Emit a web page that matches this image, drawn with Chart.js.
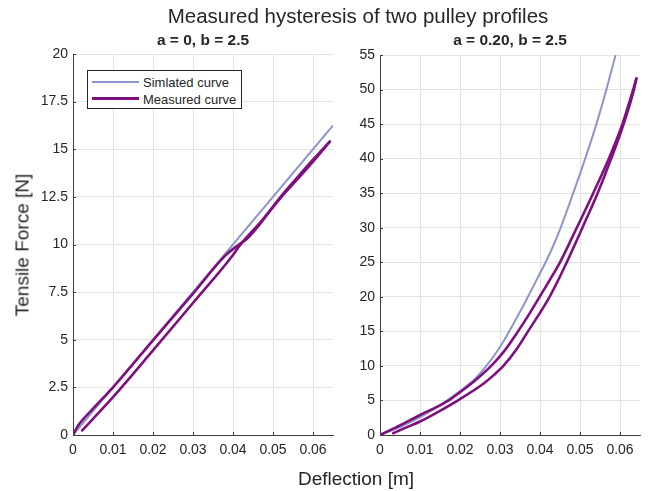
<!DOCTYPE html>
<html>
<head>
<meta charset="utf-8">
<script src="https://cdn.jsdelivr.net/npm/chart.js@4.4.1/dist/chart.umd.min.js"></script>
<style>
  html, body { margin: 0; padding: 0; background: #ffffff; }
  body { width: 661px; height: 491px; position: relative; overflow: hidden;
         font-family: 'Liberation Sans', Arial, Helvetica, sans-serif; color: #262626; }
  .box { position: absolute; }
  .txt { position: absolute; white-space: nowrap; line-height: 1; transform: translate(-50%, -50%); }
  .legend { position: absolute; left: 87px; top: 70px; width: 153px; height: 37px;
            border: 1px solid #262626; background: #ffffff; }
  .legend .sw { position: absolute; left: 4px; width: 47px; }
  .legend .lt { position: absolute; left: 55px; font-size: 13px; line-height: 1; transform: translateY(-50%); white-space: nowrap; }
</style>
</head>
<body>
<div class="box" style="left:0px;top:0px;width:340px;height:491px;"><canvas id="c1" width="340" height="491"></canvas></div>
<div class="box" style="left:340px;top:0px;width:321px;height:491px;"><canvas id="c2" width="321" height="491"></canvas></div>

<div class="txt" style="left:358px;top:16px;font-size:20.5px;">Measured hysteresis of two pulley profiles</div>
<div class="txt" style="left:203px;top:40px;font-size:15.5px;font-weight:bold;">a = 0, b = 2.5</div>
<div class="txt" style="left:510px;top:40px;font-size:15.5px;font-weight:bold;">a = 0.20, b = 2.5</div>
<div class="txt" style="left:22px;top:245px;font-size:19px;transform:translate(-50%,-50%) rotate(-90deg);">Tensile Force [N]</div>
<div class="txt" style="left:356px;top:478px;font-size:19px;">Deflection [m]</div>

<div class="legend">
  <div class="sw" style="top:10px;height:2px;background:#8c96cc;"></div>
  <div class="lt" style="top:11px;">Simlated curve</div>
  <div class="sw" style="top:26px;height:3px;background:#7f0f7f;"></div>
  <div class="lt" style="top:27.5px;">Measured curve</div>
</div>

<script>
// ---------------- data ----------------
const seriesNames = ['Simlated curve', 'Measured curve'];

const xTicks = [0, 0.01, 0.02, 0.03, 0.04, 0.05, 0.06];
const xTickLabels = ['0', '0.01', '0.02', '0.03', '0.04', '0.05', '0.06'];
const leftYTicks = [0, 2.5, 5, 7.5, 10, 12.5, 15, 17.5, 20];
const leftYTickLabels = ['0', '2.5', '5', '7.5', '10', '12.5', '15', '17.5', '20'];
const rightYTicks = [0, 5, 10, 15, 20, 25, 30, 35, 40, 45, 50, 55];
const rightYTickLabels = ['0', '5', '10', '15', '20', '25', '30', '35', '40', '45', '50', '55'];

// Left subplot: a = 0, b = 2.5
const leftSimX = [0, 0.065];
const leftSimY = [0, 16.25];
// measured loop: loading branch and unloading branch
const leftUpX = [0, 0.0013, 0.005, 0.01, 0.02, 0.03, 0.038, 0.0415, 0.0435, 0.047, 0.0517, 0.056, 0.06, 0.0642];
const leftUpY = [0, 0.5, 1.38, 2.5, 4.97, 7.42, 9.4, 10.0, 10.3, 11.15, 12.45, 13.5, 14.45, 15.4];
const leftDownX = [0.0023, 0.005, 0.01, 0.02, 0.03, 0.04, 0.0415, 0.0435, 0.047, 0.0517, 0.056, 0.06, 0.0642];
const leftDownY = [0.24, 0.85, 1.99, 4.44, 6.93, 9.45, 9.9, 10.4, 11.2, 12.4, 13.4, 14.35, 15.4];

// Right subplot: a = 0.20, b = 2.5
const rightSimX = [0, 0.005, 0.01, 0.015, 0.02, 0.0235, 0.0266, 0.0295, 0.032, 0.0345, 0.0368, 0.0392, 0.0414, 0.0434, 0.0451, 0.0483, 0.0513, 0.0541, 0.0566, 0.0589];
const rightSimY = [0, 1.15, 2.6, 4.3, 6.35, 8.0, 10.0, 12.3, 14.7, 17.3, 19.8, 22.5, 25.0, 27.5, 29.9, 35.0, 40.0, 45.0, 50.0, 55.0];
const rightUpX = [0, 0.002, 0.005, 0.01, 0.015, 0.0172, 0.02, 0.024, 0.0278, 0.031, 0.0345, 0.0373, 0.0399, 0.0425, 0.045, 0.0492, 0.0533, 0.0572, 0.0606, 0.0633, 0.0641];
const rightUpY = [0, 0.55, 1.4, 2.9, 4.3, 5.0, 6.2, 8.0, 10.0, 12.1, 15.0, 17.5, 20.0, 22.5, 25.0, 30.0, 35.0, 40.0, 45.0, 50.0, 51.6];
const rightDownX = [0.0033, 0.006, 0.01, 0.015, 0.02, 0.026, 0.0285, 0.031, 0.034, 0.037, 0.0424, 0.0467, 0.0506, 0.0544, 0.0578, 0.0609, 0.0635, 0.0641];
const rightDownY = [0.25, 0.95, 1.95, 3.5, 5.2, 7.5, 8.7, 10.1, 12.3, 15.0, 20.0, 25.0, 30.0, 35.0, 40.0, 45.0, 50.0, 51.6];

// ---------------- styling ----------------
const SIM_COLOR = '#8c96cc';
const MEAS_COLOR = '#7f0f7f';
const AXIS_COLOR = '#404040';
const GRID_COLOR = '#e3e3e3';
const TEXT_COLOR = '#262626';
const FONT = "'Liberation Sans', Arial, Helvetica, sans-serif";

function pts(xs, ys) { return xs.map((x, i) => ({ x: x, y: ys[i] })); }

const inwardTicks = {
  id: 'inwardTicks',
  afterDraw(chart) {
    const ctx = chart.ctx, a = chart.chartArea;
    const xs = chart.scales.x, ys = chart.scales.y;
    ctx.save();
    ctx.strokeStyle = AXIS_COLOR;
    ctx.lineWidth = 1;
    ctx.beginPath();
    xs.ticks.forEach(t => {
      const px = Math.round(xs.getPixelForValue(t.value)) + 0.5;
      ctx.moveTo(px, a.bottom); ctx.lineTo(px, a.bottom - 3);
    });
    ys.ticks.forEach(t => {
      const py = Math.round(ys.getPixelForValue(t.value)) + 0.5;
      ctx.moveTo(a.left, py); ctx.lineTo(a.left + 3, py);
    });
    ctx.stroke();
    ctx.restore();
  }
};

function measSet(xs, ys) {
  return { label: seriesNames[1], data: pts(xs, ys), showLine: true, borderColor: MEAS_COLOR,
           backgroundColor: MEAS_COLOR, borderWidth: 2.6, pointRadius: 0,
           cubicInterpolationMode: 'monotone', order: 1,
           borderJoinStyle: 'round', borderCapStyle: 'round' };
}

function makeChart(id, simX, simY, upX, upY, dnX, dnY, yMax, yTicks, yLabels, pad, yWidth) {
  return new Chart(document.getElementById(id), {
    type: 'scatter',
    data: {
      datasets: [
        measSet(upX, upY),
        measSet(dnX, dnY),
        { label: seriesNames[0], data: pts(simX, simY), showLine: true, borderColor: SIM_COLOR,
          backgroundColor: SIM_COLOR, borderWidth: 2, pointRadius: 0,
          cubicInterpolationMode: 'monotone', order: 2 }
      ]
    },
    options: {
      responsive: false,
      animation: false,
      devicePixelRatio: 1,
      layout: { padding: pad },
      plugins: { legend: { display: false }, title: { display: false }, tooltip: { enabled: false } },
      scales: {
        x: {
          type: 'linear', min: 0, max: 0.065,
          afterBuildTicks: s => { s.ticks = xTicks.map(v => ({ value: v })); },
          afterFit: s => { s.height = 56; },
          ticks: { callback: (v, i) => xTickLabels[i], color: TEXT_COLOR, padding: 7,
                   font: { family: FONT, size: 14 }, maxRotation: 0, autoSkip: false },
          grid: { color: GRID_COLOR, drawTicks: false, lineWidth: 1 },
          border: { display: true, color: AXIS_COLOR, width: 1 }
        },
        y: {
          type: 'linear', min: 0, max: yMax,
          afterBuildTicks: s => { s.ticks = yTicks.map(v => ({ value: v })); },
          afterFit: s => { s.width = yWidth; },
          ticks: { callback: (v, i) => yLabels[i], color: TEXT_COLOR, padding: 5,
                   font: { family: FONT, size: 14 }, autoSkip: false },
          grid: { color: GRID_COLOR, drawTicks: false, lineWidth: 1 },
          border: { display: true, color: AXIS_COLOR, width: 1 }
        }
      }
    },
    plugins: [inwardTicks]
  });
}

makeChart('c1', leftSimX, leftSimY, leftUpX, leftUpY, leftDownX, leftDownY, 20, leftYTicks, leftYTickLabels,
          { top: 54, right: 7, bottom: 0, left: 0 }, 73);
makeChart('c2', rightSimX, rightSimY, rightUpX, rightUpY, rightDownX, rightDownY, 55, rightYTicks, rightYTickLabels,
          { top: 55, right: 21, bottom: 0, left: 0 }, 40);
</script>
</body>
</html>
